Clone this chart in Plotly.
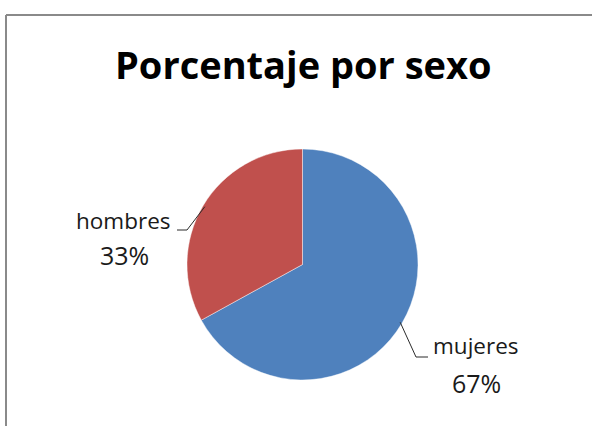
import math
import plotly.graph_objects as go

# Data
categories = ["mujeres", "hombres"]
values = [67, 33]
colors = ["#4F81BD", "#C0504D"]
title_text = "Porcentaje por sexo"

W, H = 592, 426
FONT = "Open Sans"


def px(x):
    return x / W


def py(y):
    return 1 - y / H


# Pie geometry (pixels)
cx, cy, r = 302.5, 264.5, 115.5

fig = go.Figure(
    go.Pie(
        labels=categories,
        values=values,
        sort=False,
        direction="clockwise",
        rotation=0,
        textinfo="none",
        hoverinfo="label+percent",
        marker=dict(colors=colors, line=dict(color="rgba(255,255,255,0.55)", width=0.8)),
        domain=dict(x=[px(cx - r), px(cx + r)], y=[py(cy + r), py(cy - r)]),
        showlegend=False,
    )
)

total = sum(values)
pcts = [round(v / total * 100) for v in values]

# Label placement: name / percent centres and leader polyline (pixels)
label_layout = {
    "mujeres": dict(name=(476, 345), pct=(476, 383), elbow=(416, 357), end=(428, 357)),
    "hombres": dict(name=(123, 220), pct=(124, 255), elbow=(187, 230), end=(177, 230)),
}

shapes = []
annotations = []

# Mid-angle of each slice (clockwise from 12 o'clock) -> point on the rim
start = 0.0
for cat, v, p in zip(categories, values, pcts):
    span = v / total * 360
    mid = math.radians(start + span / 2)
    start += span
    rim = (cx + (r - 2) * math.sin(mid), cy - (r - 2) * math.cos(mid))
    lay = label_layout[cat]
    pts = [rim, lay["elbow"], lay["end"]]
    path = "M " + " L ".join(f"{px(x)},{py(y)}" for x, y in pts)
    shapes.append(dict(type="path", xref="paper", yref="paper", path=path,
                       line=dict(color="#2b2b2b", width=1)))
    annotations.append(dict(text=cat, x=px(lay["name"][0]), y=py(lay["name"][1]),
                            xref="paper", yref="paper", showarrow=False,
                            xanchor="center", yanchor="middle",
                            font=dict(family=FONT, size=22.5, color="#1a1a1a")))
    annotations.append(dict(text=f"{p}%", x=px(lay["pct"][0]), y=py(lay["pct"][1]),
                            xref="paper", yref="paper", showarrow=False,
                            xanchor="center", yanchor="middle",
                            font=dict(family=FONT, size=25, color="#1a1a1a")))

# Title
annotations.append(dict(text=f"<b>{title_text}</b>", x=px(303), y=py(64),
                        xref="paper", yref="paper", showarrow=False,
                        xanchor="center", yanchor="middle",
                        font=dict(family=FONT, size=38, color="#000000")))

# Chart frame (top and left edges)
frame = "#8a8a8a"
shapes.append(dict(type="line", xref="paper", yref="paper",
                   x0=px(6), x1=1.01, y0=py(15), y1=py(15), line=dict(color=frame, width=2)))
shapes.append(dict(type="line", xref="paper", yref="paper",
                   x0=px(6), x1=px(6), y0=py(15), y1=-0.01, line=dict(color=frame, width=2)))

fig.update_layout(
    width=W, height=H,
    margin=dict(l=0, r=0, t=0, b=0),
    paper_bgcolor="white",
    plot_bgcolor="white",
    shapes=shapes,
    annotations=annotations,
)

fig.write_html("out.html")
